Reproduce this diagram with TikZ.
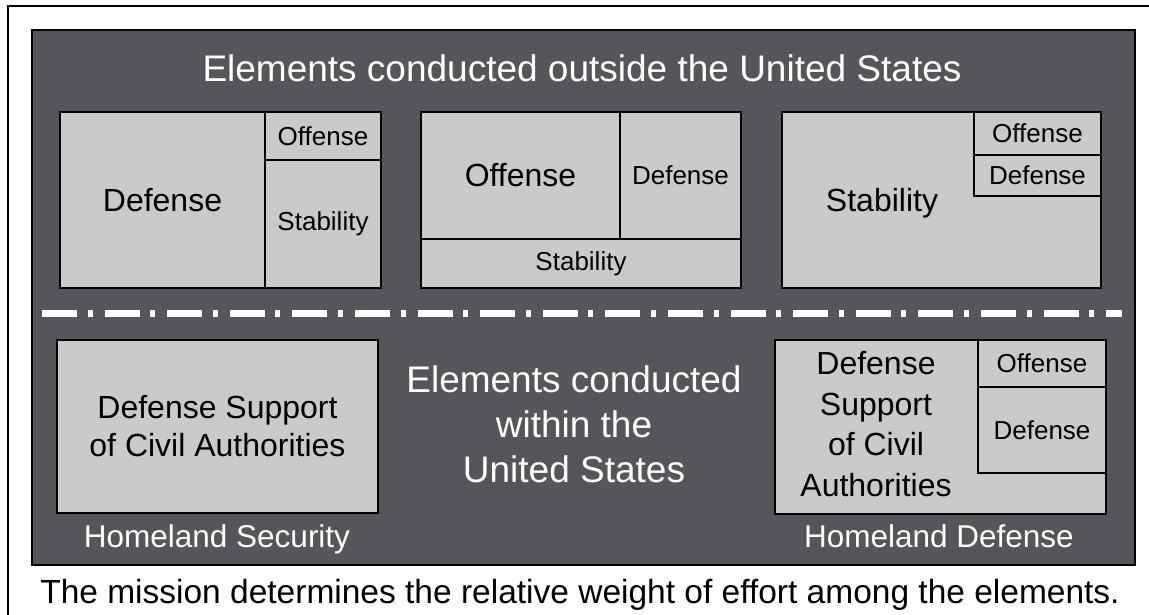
\documentclass[tikz,border=0pt]{standalone}
\usepackage{fontspec}
\setmainfont{Liberation Sans}
\usepackage{tikz}
\usetikzlibrary{positioning}
\definecolor{panelgray}{HTML}{555659}
\definecolor{cellgray}{HTML}{C9CACC}
\tikzstyle{panel} = [draw=black,line width=1.5pt,fill=panelgray,inner sep=0pt,outer sep=0pt]
\tikzstyle{cell} = [draw=black,line width=2.5pt,fill=cellgray,inner sep=0pt,outer sep=0pt,align=center,font=\fontsize{26}{30}\selectfont]
\tikzstyle{big} = [font=\fontsize{32}{38}\selectfont]
\tikzstyle{whitetext} = [text=white,inner sep=0pt,align=center]

\begin{document}
\begin{tikzpicture}[x=1pt,y=-1pt]
    \useasboundingbox (0,0) rectangle (1149,615);
    \draw[line width=2pt] (8,615) |- (1149,6);
   	\node[panel,anchor=north west,minimum width=1103,minimum height=535](bg) at (32,30){};
   	\node[whitetext,anchor=base,font=\fontsize{37}{44}\selectfont](outside) at (582,82){Elements conducted outside the United States};
   	% outside, first
   	\node[cell,big,anchor=north west,minimum width=205,minimum height=176](d_1) at (60,112){Defense};
   	\node[cell,anchor=north west,minimum width=116,minimum height=48](o_1) at (d_1.north east){Offense};
   	\node[cell,minimum width=116,minimum height=128](s_1)[below=0pt of o_1]{Stability};
   	% outside, second
   	\node[cell,big,anchor=north west,minimum width=199,minimum height=127](o_2) at (421,112){Offense};
   	\node[cell,anchor=north west,minimum width=121,minimum height=127](d_2) at (o_2.north east){Defense};
   	\node[cell,anchor=north west,minimum width=320,minimum height=49](s_2) at (o_2.south west){Stability};
   	% outside, third
   	\node[cell,anchor=north west,minimum width=319,minimum height=176](s_3) at (782,112){};
   	\node[inner sep=0pt,big](s_3t) at (882,203){Stability};
   	\node[cell,anchor=north east,minimum width=127,minimum height=43](o_3) at (s_3.north east){Offense};
   	\node[cell,minimum width=127,minimum height=41](d_3)[below=0pt of o_3]{Defense};
   	% dividing line
   	\coordinate (sep_l) at (42,313);
   	\coordinate (sep_r) at (1122,313);
   	\draw[white,line width=7pt,dash pattern=on 35pt off 10.5pt on 5pt off 12.1pt] (sep_l) -- (sep_r);
   	% within
   	\node[cell,big,anchor=north west,minimum width=321,minimum height=173](h_1) at (57,340){Defense Support\\of Civil Authorities};
   	\node[whitetext,anchor=base,font=\fontsize{31.5}{36}\selectfont](hs) at (217,547){Homeland Security};
   	\node[whitetext,font=\fontsize{37}{45}\selectfont](within) at (574,424){Elements conducted\\within the\\United States};
   	\node[cell,anchor=north west,minimum width=331,minimum height=174](h_2) at (775,340){};
   	\node[inner sep=0pt,align=center,font=\fontsize{32}{40.5}\selectfont](h_2t) at (876,424){Defense\\Support\\of Civil\\Authorities};
   	\node[cell,anchor=north east,minimum width=128,minimum height=47](o_4) at (h_2.north east){Offense};
   	\node[cell,minimum width=128,minimum height=86](d_4)[below=0pt of o_4]{Defense};
   	\node[whitetext,anchor=base,font=\fontsize{31.5}{36}\selectfont](hd) at (939,547){Homeland Defense};
   	\node[inner sep=0pt,anchor=base,font=\fontsize{33.5}{40}\selectfont](mission) at (580,603){The mission determines the relative weight of effort among the elements.};
\end{tikzpicture}
\end{document}
